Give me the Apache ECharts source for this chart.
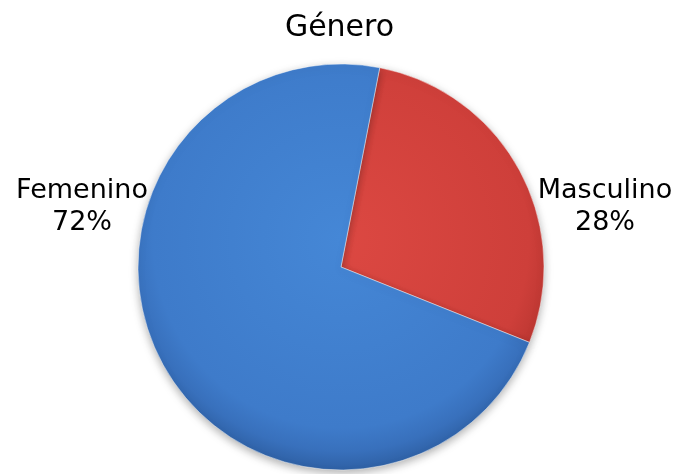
<!DOCTYPE html>
<html>
<head>
<meta charset="utf-8">
<script src="https://cdn.jsdelivr.net/npm/echarts@6/dist/echarts.min.js"></script>
<style>
html,body{margin:0;padding:0;background:#fff;}
#chart{width:679px;height:474px;}
</style>
</head>
<body>
<div id="chart"></div>
<script>
var titleText = 'Género';
var categories = ['Masculino', 'Femenino'];
var values = [28, 72];

var fills = [
  new echarts.graphic.RadialGradient(341, 240, 235, [
    {offset: 0, color: '#DC4842'},
    {offset: 0.8, color: '#CE3F3A'},
    {offset: 0.9, color: '#BF3833'},
    {offset: 1, color: '#9E2C28'}
  ], true),
  new echarts.graphic.RadialGradient(341, 240, 235, [
    {offset: 0, color: '#4587D6'},
    {offset: 0.8, color: '#3E7BCA'},
    {offset: 0.9, color: '#3870BC'},
    {offset: 1, color: '#2C5C9E'}
  ], true)
];
var labelPos = [
  {x: 605, y: 207},
  {x: 82, y: 207}
];

var chart = echarts.init(document.getElementById('chart'), null, {renderer: 'canvas'});
chart.setOption({
  backgroundColor: '#ffffff',
  animation: false,
  title: {
    text: titleText,
    left: 'center',
    top: 8,
    textStyle: {fontFamily: 'DejaVu Sans', fontSize: 30, fontWeight: 'normal', color: '#000'}
  },
  series: [{
    type: 'pie',
    center: [341, 267],
    radius: [0, 203],
    startAngle: 79,
    clockwise: true,
    data: categories.map(function (c, i) {
      return {
        name: c,
        value: values[i],
        itemStyle: {color: fills[i]}
      };
    }),
    itemStyle: {
      borderColor: 'rgba(255,255,255,0.45)',
      borderWidth: 1,
      shadowBlur: 8,
      shadowColor: 'rgba(0,0,0,0.3)',
      shadowOffsetY: 3
    },
    label: {
      show: true,
      position: 'outside',
      formatter: function (p) { return p.name + '\n' + Math.round(p.percent) + '%'; },
      fontFamily: 'DejaVu Sans',
      fontSize: 27,
      lineHeight: 32,
      color: '#000',
      align: 'center',
      overflow: 'none',
      width: 200
    },
    labelLine: {show: false},
    labelLayout: function (params) {
      var p = labelPos[params.dataIndex];
      return {x: p.x, y: p.y, align: 'center', verticalAlign: 'middle', hideOverlap: false, moveOverlap: false};
    },
    emphasis: {disabled: true}
  }]
});
</script>
</body>
</html>
